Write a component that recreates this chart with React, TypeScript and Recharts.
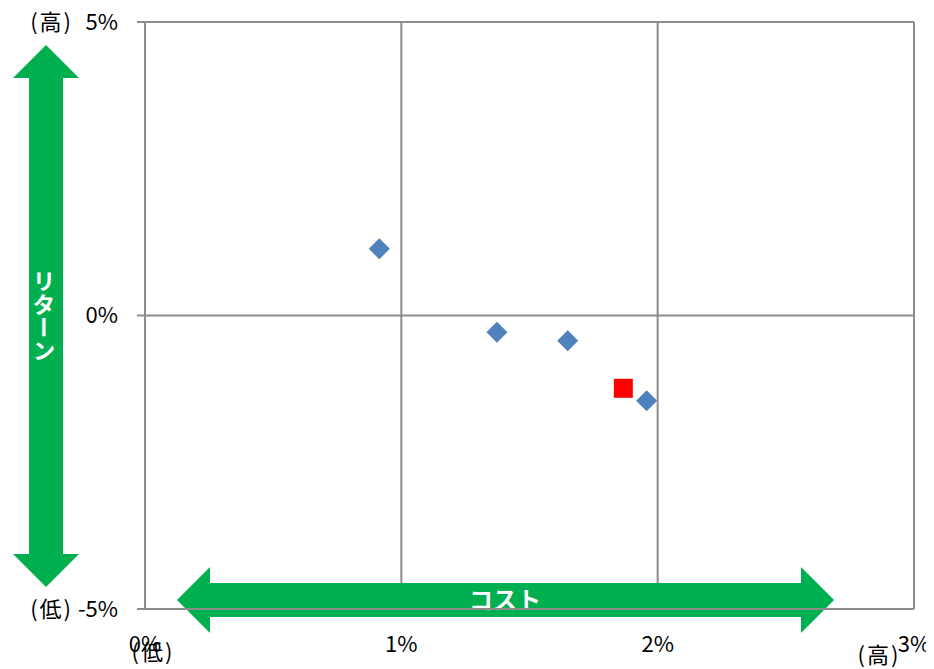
import {
  CartesianGrid,
  Customized,
  Scatter,
  ScatterChart,
  XAxis,
  YAxis,
} from "recharts";

// cost (%) vs return (%)
const fundCost = [0.914, 1.373, 1.649, 1.957];
const fundReturn = [1.136, -0.286, -0.429, -1.451];
const targetCost = [1.866];
const targetReturn = [-1.24];

const xTicks = [0, 1, 2, 3];
const yTicks = [-5, 0, 5];
const yPrefix: Record<number, string> = { 5: "(高)", [-5]: "(低)" };
const xLow = "(低)";
const xHigh = "(高)";
const returnLabel = "リターン";
const costLabel = "コスト";

const funds = fundCost.map((x, i) => ({ x, y: fundReturn[i] }));
const target = targetCost.map((x, i) => ({ x, y: targetReturn[i] }));

const W = 934;
const H = 669;
const GRID = "#8c8c8c";
const GREEN = "#00b050";
const FONT = '"Noto Sans CJK JP", "Noto Sans", sans-serif';
const FS = 22;

interface ShapeArgs {
  cx?: number;
  cy?: number;
}

function Diamond({ cx = 0, cy = 0 }: ShapeArgs) {
  const r = 10.5;
  return (
    <path
      d={`M${cx},${cy - r}L${cx + r},${cy}L${cx},${cy + r}L${cx - r},${cy}Z`}
      fill="#4f81bd"
    />
  );
}

function Square({ cx = 0, cy = 0 }: ShapeArgs) {
  const s = 19;
  return <rect x={cx - s / 2} y={cy - s / 2} width={s} height={s} fill="#ff0000" />;
}

interface TickArgs {
  x?: number;
  y?: number;
  payload?: { value: number };
}

function YTick({ x = 0, y = 0, payload }: TickArgs) {
  const v = payload?.value ?? 0;
  const pre = yPrefix[v];
  return (
    <g fontFamily={FONT} fontSize={FS} fill="#000">
      <text x={x} y={y} dy="0.36em" textAnchor="end">
        {`${v}%`}
      </text>
      {pre && (
        <text x={x - 45} y={y} dy="0.36em" textAnchor="end" letterSpacing={2}>
          {pre}
        </text>
      )}
    </g>
  );
}

function XTick({ x = 0, y = 0, payload }: TickArgs) {
  const v = payload?.value ?? 0;
  return (
    <g fontFamily={FONT} fontSize={FS} fill="#000">
      <text x={x} y={y + 43} textAnchor="middle">
        {`${v}%`}
      </text>
      {v === 0 && (
        <text x={x + 8} y={y + 51} textAnchor="middle" letterSpacing={2}>
          {xLow}
        </text>
      )}
      {v === 3 && (
        <text x={x - 35} y={y + 54} textAnchor="middle" letterSpacing={2}>
          {xHigh}
        </text>
      )}
    </g>
  );
}

// double-headed block arrows drawn beside the plot
function Arrows() {
  const vx = 46;
  const vTop = 45;
  const vBot = 587;
  const hy = 600;
  const hL = 177;
  const hR = 834;
  const bw = 17;
  const hw = 33;
  const hl = 33;
  const vPath = [
    `M${vx},${vTop}`,
    `L${vx + hw},${vTop + hl}`,
    `L${vx + bw},${vTop + hl}`,
    `L${vx + bw},${vBot - hl}`,
    `L${vx + hw},${vBot - hl}`,
    `L${vx},${vBot}`,
    `L${vx - hw},${vBot - hl}`,
    `L${vx - bw},${vBot - hl}`,
    `L${vx - bw},${vTop + hl}`,
    `L${vx - hw},${vTop + hl}Z`,
  ].join("");
  const hPath = [
    `M${hL},${hy}`,
    `L${hL + hl},${hy - hw}`,
    `L${hL + hl},${hy - bw}`,
    `L${hR - hl},${hy - bw}`,
    `L${hR - hl},${hy - hw}`,
    `L${hR},${hy}`,
    `L${hR - hl},${hy + hw}`,
    `L${hR - hl},${hy + bw}`,
    `L${hL + hl},${hy + bw}`,
    `L${hL + hl},${hy + hw}Z`,
  ].join("");
  return (
    <g>
      <path d={vPath} fill={GREEN} />
      <path d={hPath} fill={GREEN} />
      <text
        x={44}
        y={(vTop + vBot) / 2}
        fill="#fff"
        fontFamily={FONT}
        fontWeight="bold"
        fontSize={23}
        textAnchor="middle"
        dominantBaseline="central"
        style={{ writingMode: "vertical-rl" }}
      >
        {returnLabel}
      </text>
      <text
        x={505}
        y={hy + 9}
        fill="#fff"
        fontFamily={FONT}
        fontWeight="bold"
        fontSize={24}
        textAnchor="middle"
      >
        {costLabel}
      </text>
    </g>
  );
}

export default function App() {
  return (
    <div style={{ width: W, height: H, margin: "-8px 0 0 -8px" }}>
      <ScatterChart
        width={W}
        height={H}
        margin={{ top: 22, right: 20, bottom: 0, left: 0 }}
      >
        <CartesianGrid stroke={GRID} strokeWidth={2} />
        <XAxis
          type="number"
          dataKey="x"
          domain={[0, 3]}
          ticks={xTicks}
          tickLine={false}
          tickSize={0}
          tickMargin={0}
          height={60}
          axisLine={{ stroke: GRID, strokeWidth: 2 }}
          tick={<XTick />}
        />
        <YAxis
          type="number"
          dataKey="y"
          domain={[-5, 5]}
          ticks={yTicks}
          width={145}
          tickSize={8}
          tickMargin={19}
          tickLine={{ stroke: GRID, strokeWidth: 2 }}
          axisLine={{ stroke: GRID, strokeWidth: 2 }}
          tick={<YTick />}
        />
        <Scatter data={funds} shape={<Diamond />} isAnimationActive={false} />
        <Scatter data={target} shape={<Square />} isAnimationActive={false} />
        <Customized component={<Arrows />} />
      </ScatterChart>
    </div>
  );
}
